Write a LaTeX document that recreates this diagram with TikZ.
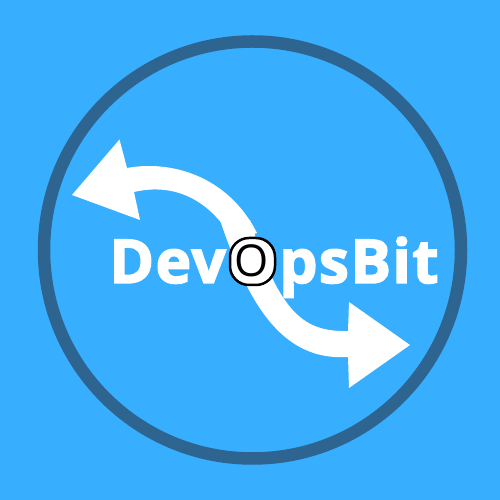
\documentclass[tikz,border=0pt]{standalone}
\usepackage{xcolor}
\usepackage{fontspec}
\setmainfont{Open Sans}
\newfontfamily\bitfont[BoldFont=*,BoldFeatures={FakeBold=2.4,LetterSpace=2.2}]{Open Sans Bold}
\definecolor{bitblue}{HTML}{38AEFF}
\definecolor{bitring}{HTML}{2D6590}

\begin{document}
\begin{tikzpicture}[x=1cm,y=1cm]
  \tikzset{bitword/.style={text=white,font=\bitfont\bfseries\fontsize{34.5}{35}\selectfont,inner sep=0pt}}
  \fill[bitblue] (0,0) rectangle (10,10);
  \useasboundingbox (0,0) rectangle (10,10);
  \draw[bitring,line width=0.25cm] (5.05,5) circle[radius=4.17cm];
  % upper arrow
  \fill[white] (1.44,6.10) -- (2.39,7.21) -- (2.54,6.64)
    .. controls (3.4,6.8) and (4.55,6.5) .. (5.14,5.34)
    -- (4.66,5.2)
    .. controls (4.2,6.0) and (3.5,6.35) .. (2.68,6.16)
    -- (2.80,5.60) -- cycle;
  % lower arrow
  \fill[white] (8.20,3.10) -- (6.98,3.96) -- (6.96,3.38)
    .. controls (6.1,3.36) and (5.6,3.7) .. (5.0,5.6)
    -- (4.4,5.6)
    .. controls (5.0,3.8) and (5.7,2.78) .. (6.96,2.86)
    -- (6.98,2.24) -- cycle;
  \node[bitword,anchor=base west] (devlabel) at (2.18,4.34) {Dev};
  \node[bitword,anchor=base east] (bitlabel) at (8.78,4.34) {psBit};
  \node[draw=black,fill=white,line width=0.05cm,rounded corners=0.38cm,minimum width=0.9cm,minimum height=0.94cm,inner sep=0pt] (obox) at (5.05,4.77) {};
  \node[text=black,font=\fontsize{25}{25}\selectfont,anchor=base,inner sep=0pt] (olabel) at (5.04,4.47) {O};
\end{tikzpicture}
\end{document}
